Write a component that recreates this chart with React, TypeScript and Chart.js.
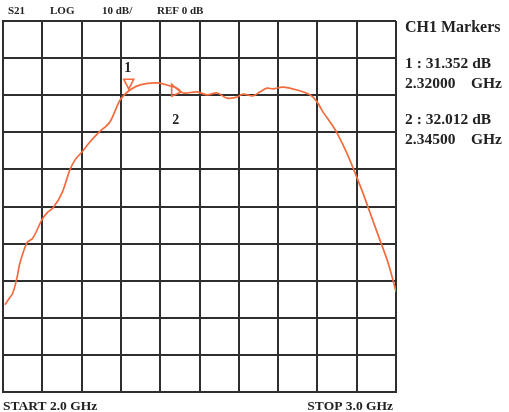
import React, { useEffect, useRef } from "react";
import { Chart, registerables } from "chart.js";

Chart.register(...registerables);

// S21 trace, frequency in GHz and gain in dB
const freqGHz = [
  2.005, 2.013, 2.025, 2.036, 2.043, 2.061, 2.076, 2.099, 2.112, 2.127,
  2.15, 2.17, 2.183, 2.201, 2.221, 2.242, 2.272, 2.298, 2.323, 2.349,
  2.392, 2.425, 2.443, 2.458, 2.494, 2.519, 2.545, 2.57, 2.595, 2.611,
  2.636, 2.654, 2.672, 2.687, 2.712, 2.748, 2.781, 2.799, 2.814, 2.832,
  2.85, 2.875, 2.896, 2.916, 2.934, 2.959, 2.98, 2.997, 3.0,
];
const gainDb = [
  -26.5, -25.2, -23.3, -19.0, -15.2, -9.8, -8.5, -3.6, -1.7, -0.4,
  3.6, 9.8, 12.5, 14.7, 17.4, 19.8, 22.8, 28.7, 31.4, 32.8,
  33.3, 32.5, 31.9, 30.6, 30.9, 30.1, 30.6, 29.2, 29.5, 30.3,
  29.8, 30.9, 31.9, 31.7, 32.2, 31.4, 30.1, 28.2, 25.5, 22.8,
  19.8, 14.4, 9.0, 3.6, -1.7, -9.0, -15.2, -21.7, -23.0,
];

// Markers as placed on the trace
const markerIds = ["1", "2"];
const markerFreq = [2.32, 2.452];
const markerDb = [31.352, 30.8];

// Texts
const headerLabels = ["S21", "LOG", "10 dB/", "REF 0 dB"];
const markerTitle = "CH1 Markers";
const markerReadouts = ["1 : 31.352 dB", "2.32000    GHz", "2 : 32.012 dB", "2.34500    GHz"];
const startLabel = "START 2.0 GHz";
const stopLabel = "STOP 3.0 GHz";

const TRACE = "#f26b3d";
const GRID = "#2e2e2e";
const TEXT = "#222222";
const SERIF = "'Liberation Serif', 'DejaVu Serif', serif";

const overlay = {
  id: "overlay",
  afterDatasetsDraw(chart: any) {
    const { ctx, scales } = chart;
    const xs = scales.x;
    const ys = scales.y;
    ctx.save();
    ctx.strokeStyle = TRACE;
    ctx.lineWidth = 1.6;
    ctx.fillStyle = TEXT;
    ctx.font = `bold 14px ${SERIF}`;
    ctx.textAlign = "center";
    ctx.textBaseline = "middle";
    markerIds.forEach((id, i) => {
      const px = xs.getPixelForValue(markerFreq[i]);
      const py = ys.getPixelForValue(markerDb[i]);
      ctx.beginPath();
      if (i === 0) {
        ctx.moveTo(px, py - 1);
        ctx.lineTo(px - 5, py - 11);
        ctx.lineTo(px + 5, py - 11);
        ctx.closePath();
        ctx.stroke();
        ctx.fillText(id, px - 1, py - 22);
      } else {
        ctx.moveTo(px, py);
        ctx.lineTo(px - 9, py - 8);
        ctx.lineTo(px - 9, py + 4);
        ctx.closePath();
        ctx.stroke();
        ctx.fillText(id, px - 5, py + 28);
      }
    });
    ctx.restore();
  },
  afterDraw(chart: any) {
    const { ctx } = chart;
    ctx.save();
    ctx.fillStyle = TEXT;
    ctx.textBaseline = "middle";
    ctx.textAlign = "left";
    ctx.font = `bold 11px ${SERIF}`;
    const hx = [8, 50, 102, 157];
    headerLabels.forEach((t, i) => ctx.fillText(t, hx[i], 11));

    ctx.font = `bold 16px ${SERIF}`;
    ctx.fillText(markerTitle, 405, 28);
    ctx.font = `bold 15.5px ${SERIF}`;
    const ry = [64, 84, 120, 140];
    markerReadouts.forEach((t, i) => ctx.fillText(t, 405, ry[i]));

    ctx.font = `bold 13.5px ${SERIF}`;
    ctx.fillText(startLabel, 3, 407);
    ctx.textAlign = "right";
    ctx.fillText(stopLabel, 393, 407);
    ctx.restore();
  },
};

export default function App() {
  const ref = useRef<HTMLCanvasElement | null>(null);

  useEffect(() => {
    if (!ref.current) return;
    const chart = new Chart(ref.current, {
      type: "line",
      data: {
        datasets: [
          {
            data: freqGHz.map((f, i) => ({ x: f, y: gainDb[i] })),
            borderColor: TRACE,
            borderWidth: 1.7,
            pointRadius: 0,
            tension: 0.3,
            fill: false,
          },
        ],
      },
      options: {
        responsive: false,
        animation: false,
        layout: { padding: { left: 3, top: 21, right: 113, bottom: 20 } },
        plugins: { legend: { display: false }, tooltip: { enabled: false } },
        scales: {
          x: {
            type: "linear",
            min: 2,
            max: 3,
            ticks: { display: false, stepSize: 0.1 },
            grid: { color: GRID, lineWidth: 2, drawTicks: false },
            border: { color: GRID, width: 2 },
          },
          y: {
            type: "linear",
            min: -50,
            max: 50,
            ticks: { display: false, stepSize: 10 },
            grid: { color: GRID, lineWidth: 2, drawTicks: false },
            border: { color: GRID, width: 2 },
          },
        },
      },
      plugins: [overlay],
    });
    return () => chart.destroy();
  }, []);

  return (
    <div style={{ position: "absolute", left: 0, top: 0, width: 509, height: 412, background: "#fff" }}>
      <canvas ref={ref} width={509} height={412} />
    </div>
  );
}
